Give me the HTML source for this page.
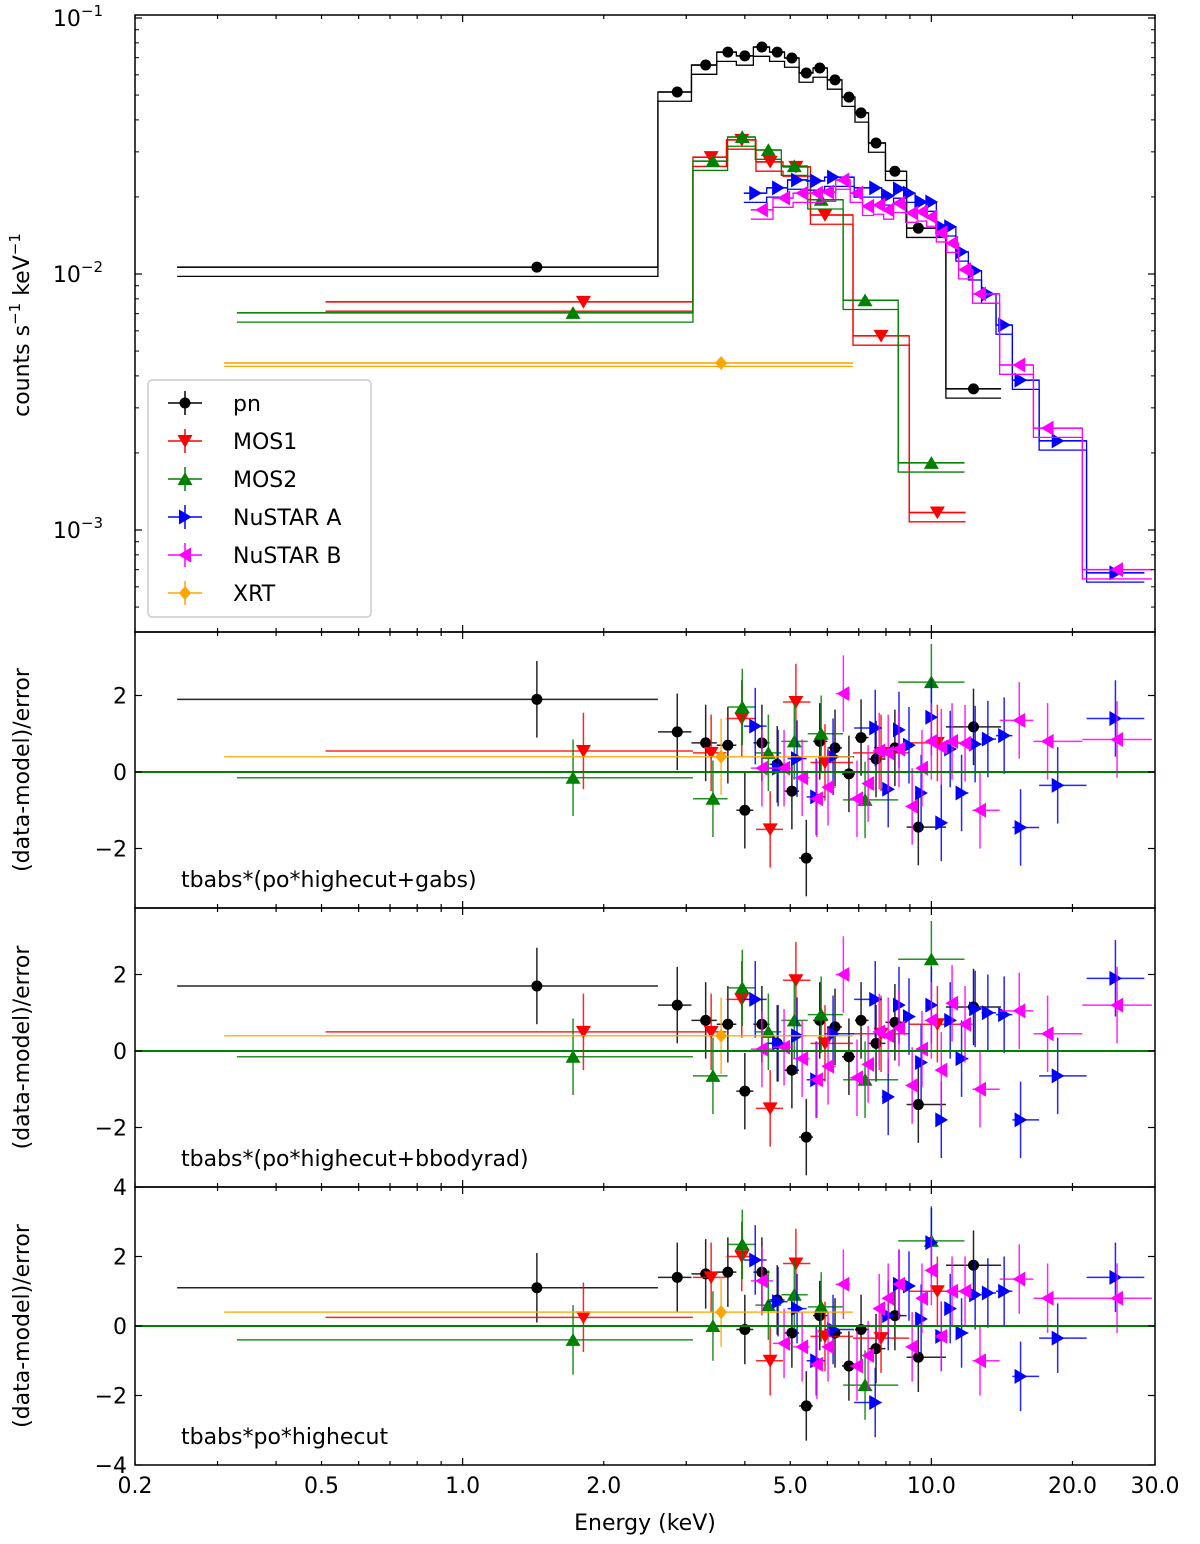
<!DOCTYPE html>
<html><head><meta charset="utf-8"><style>
html,body{margin:0;padding:0;background:#fff;}
svg text{font-family:"DejaVu Sans","Liberation Sans",sans-serif;}
</style></head><body>
<svg id="chart" width="1200" height="1539" viewBox="0 0 1200 1539" xmlns="http://www.w3.org/2000/svg">
<g id="marks"></g><g id="axes"></g>
</svg>
<script>
// ---- data ----
const instruments = ["pn","MOS1","MOS2","NuSTAR A","NuSTAR B","XRT"];
const colors = ["#000000","#ff0000","#008000","#0000ff","#ff00ff","#ffa500"];
const markers = ["circle","down","up","right","left","diamond"];
const pnE = [1.44,2.87,3.30,3.68,4.0,4.35,4.69,5.04,5.41,5.78,6.23,6.67,7.08,7.62,8.36,9.38,12.3];
const pnV = [0.01064,0.0514,0.0655,0.0736,0.0711,0.077,0.0736,0.0698,0.061,0.0638,0.0573,0.0491,0.0426,0.0325,0.0252,0.0151,0.00356];
const pnR1 = [1.9,1.05,0.76,0.7,-1.0,0.76,0.2,-0.5,-2.25,0.8,0.63,-0.05,0.9,0.34,0.63,-1.44,1.18];
const pnR2 = [1.7,1.2,0.8,0.7,-1.05,0.7,0.2,-0.5,-2.25,0.8,0.63,-0.15,0.8,0.2,0.75,-1.4,1.15];
const pnR3 = [1.1,1.4,1.5,1.55,-0.1,1.55,0.75,-0.2,-2.3,0.3,-0.2,-1.15,-0.1,-0.65,0.3,-0.9,1.75];
const m1E = [1.81,3.39,3.94,4.53,5.14,5.93,7.81,10.3];
const m1V = [0.00778,0.0286,0.0334,0.0274,0.0262,0.017,0.00573,0.00117];
const m1R1 = [0.55,0.5,1.4,-1.5,1.83,0.25,0.5,0.76];
const m1R2 = [0.5,0.5,1.35,-1.5,1.85,0.2,0.45,0.7];
const m1R3 = [0.25,1.4,2.0,-1.0,1.8,-0.3,-0.35,1.0];
const m2E = [1.72,3.42,3.95,4.49,5.1,5.82,7.22,10.0];
const m2V = [0.00705,0.0276,0.0343,0.0305,0.0264,0.0195,0.0079,0.00183];
const m2R1 = [-0.15,-0.7,1.7,0.5,0.8,1.0,-0.73,2.35];
const m2R2 = [-0.15,-0.65,1.65,0.5,0.8,0.95,-0.75,2.4];
const m2R3 = [-0.4,0.0,2.35,0.6,0.9,0.55,-1.7,2.45];
const naE = [4.21,4.71,5.17,5.68,6.17,7.59,8.09,8.53,8.96,9.51,10.0,10.5,10.97,11.6,12.4,13.2,14.3,15.5,18.6,24.7];
const naV = [0.0207,0.0217,0.0233,0.0231,0.0239,0.0217,0.0202,0.0215,0.0207,0.0191,0.0191,0.0153,0.0153,0.0122,0.0103,0.00836,0.00632,0.00385,0.00223,0.00068];
const naR1 = [1.2,0.1,0.35,-0.65,0.4,1.15,-0.45,1.1,0.7,-0.55,1.43,-1.33,0.6,-0.55,0.73,0.86,0.95,-1.45,-0.35,1.4];
const naR2 = [1.35,0.2,0.4,-0.75,0.45,1.35,-1.2,1.2,0.9,-0.3,1.2,-1.8,0.8,-0.2,1.1,1.0,0.95,-1.8,-0.65,1.9];
const naR3 = [1.9,0.7,0.5,-1.0,-0.1,-2.2,0.3,1.2,1.15,0.2,2.4,-0.3,0.5,-0.2,0.9,0.95,1.0,-1.45,-0.35,1.4];
const nbE = [4.35,4.85,5.3,5.7,6.02,6.49,6.94,7.33,7.74,8.09,8.53,9.1,9.55,10.0,10.5,11.07,11.8,12.7,15.4,17.7,24.9];
const nbV = [0.0178,0.0198,0.0207,0.0207,0.0209,0.0233,0.0207,0.0184,0.0186,0.0178,0.0189,0.0173,0.0175,0.0167,0.0145,0.0132,0.0104,0.00836,0.00441,0.0025,0.0007];
const nbR1 = [0.1,0.1,-0.15,-0.7,-0.4,2.05,-0.7,-0.3,0.55,0.5,0.6,-0.9,0.1,0.8,0.65,0.8,0.75,-1.0,1.35,0.8,0.85];
const nbR2 = [0.05,0.1,-0.2,-0.75,-0.4,2.0,-0.7,-0.35,0.5,0.4,0.6,-0.9,0.05,0.8,-0.5,1.25,0.7,-1.0,1.05,0.45,1.2];
const nbR3 = [1.3,-0.5,-0.6,-1.1,-0.6,1.2,-1.15,-0.85,0.5,0.8,1.2,-0.6,0.8,1.6,-0.3,1.0,1.0,-1.0,1.35,0.8,0.8];
const xrE = [3.56];
const xrV = [0.00449];
const xrR1 = [0.4];
const xrR2 = [0.4];
const xrR3 = [0.4];
const firstBins = [[0.246,2.61],[0.51,3.1],[0.33,3.1],null,null,[0.31,6.8]];
const residTitles = ["tbabs*(po*highecut+gabs)","tbabs*(po*highecut+bbodyrad)","tbabs*po*highecut"];
const xTicks = [0.2,0.5,1.0,2.0,5.0,10.0,20.0,30.0];
const xTickLabels = ["0.2","0.5","1.0","2.0","5.0","10.0","20.0","30.0"];

const E = [pnE,m1E,m2E,naE,nbE,xrE];
const V = [pnV,m1V,m2V,naV,nbV,xrV];
const R = [[pnR1,m1R1,m2R1,naR1,nbR1,xrR1],[pnR2,m1R2,m2R2,naR2,nbR2,xrR2],[pnR3,m1R3,m2R3,naR3,nbR3,xrR3]];

// ---- layout ----
const X0=135,X1=1155;
const xs = e => X0 + (Math.log10(e/0.2)/Math.log10(30/0.2))*(X1-X0);
const topY0=15,topY1=632;
const ys = v => 18 + (-1 - Math.log10(v))*256;
const panels=[{y0:632,y1:908,zero:772,unit:38.25,ticks:[-2,0,2]},
              {y0:908,y1:1187,zero:1051,unit:38.25,ticks:[-2,0,2]},
              {y0:1187,y1:1465,zero:1326,unit:34.75,ticks:[-4,-2,0,2,4]}];
const NS="http://www.w3.org/2000/svg";
const marks=document.getElementById('marks'), axes=document.getElementById('axes');
function el(tag,attrs,parent){const e=document.createElementNS(NS,tag);for(const k in attrs)e.setAttribute(k,attrs[k]);(parent||marks).appendChild(e);return e;}
function marker(kind,x,y,c,parent){
  const s=7.5;let e;
  if(kind==="circle") e=el('circle',{cx:x,cy:y,r:5.5,fill:c},parent);
  else {let p;
    if(kind==="down")p=[[x-s,y-s*0.8],[x+s,y-s*0.8],[x,y+s*0.9]];
    if(kind==="up")p=[[x-s,y+s*0.8],[x+s,y+s*0.8],[x,y-s*0.9]];
    if(kind==="right")p=[[x-s*0.8,y-s],[x-s*0.8,y+s],[x+s*0.9,y]];
    if(kind==="left")p=[[x+s*0.8,y-s],[x+s*0.8,y+s],[x-s*0.9,y]];
    if(kind==="diamond")p=[[x,y-7],[x+6,y],[x,y+7],[x-6,y]];
    e=el('polygon',{points:p.map(q=>q.join(',')).join(' '),fill:c},parent);}
  return e;
}
function bins(i){
  const e=E[i],out=[];let lo;
  for(let k=0;k<e.length;k++){
    let l,h;
    if(k===0){ if(firstBins[i]){l=firstBins[i][0];h=firstBins[i][1];} else {h=Math.sqrt(e[0]*e[1]);l=e[0]*e[0]/h;} }
    else { l=out[k-1][1]; h = k===e.length-1 ? e[k]*e[k]/l : Math.sqrt(e[k]*e[k+1]); if(h<=e[k]) h=e[k]*1.03; }
    out.push([l,h]);
  }
  return out;
}
// clip paths
const defs=el('defs',{});
[[topY0,topY1]].concat(panels.map(p=>[p.y0,p.y1])).forEach((p,i)=>{
  const cp=el('clipPath',{id:'cp'+i},defs);el('rect',{x:X0,y:p[0],width:X1-X0,height:p[1]-p[0]},cp);});
// top panel
const gTop=el('g',{'clip-path':'url(#cp0)'});


for(let i=0;i<6;i++){
  const b=bins(i),c=colors[i];
  const g=el('g',{},gTop);
  
  
  if(i<5){ [1.0,0.92].forEach(f=>{
    let d='';
    b.forEach((bb,k)=>{const y=ys(V[i][k]*f);d+=(k===0?'M':'L')+xs(bb[0])+','+y+'L'+xs(bb[1])+','+y;});
    const last=b[b.length-1];d+='';
    el('path',{d:d,fill:'none',stroke:c,'stroke-width':1.3},g);});}
  else { [1.0,0.97].forEach(f=>{const y=ys(V[i][0]*f);el('line',{x1:xs(b[0][0]),x2:xs(b[0][1]),y1:y,y2:y,stroke:c,'stroke-width':1.3},g);}); }
  for(let k=0;k<E[i].length;k++){
    const x=xs(E[i][k]),y=ys(V[i][k]);
    el('line',{x1:xs(b[k][0]),x2:xs(b[k][1]),y1:y,y2:y,stroke:c,'stroke-width':1.5},g);
    el('line',{x1:x,x2:x,y1:ys(V[i][k]*1.03),y2:ys(V[i][k]/1.03),stroke:c,'stroke-width':1.5},g);
    const m=marker(markers[i],x,y,c,g);
    
    
  }
}
// residual panels
panels.forEach((p,pi)=>{
  const g=el('g',{'clip-path':'url(#cp'+(pi+1)+')'});
  
  
  const yr=r=>p.zero-r*p.unit;
  for(let i=0;i<6;i++){
    const b=bins(i),c=colors[i];
    for(let k=0;k<E[i].length;k++){
      const x=xs(E[i][k]),y=yr(R[pi][i][k]);
      el('line',{x1:xs(b[k][0]),x2:xs(b[k][1]),y1:y,y2:y,stroke:c,'stroke-width':1.5,opacity:0.85},g);
      el('line',{x1:x,x2:x,y1:yr(R[pi][i][k]-1),y2:yr(R[pi][i][k]+1),stroke:c,'stroke-width':1.5,opacity:0.85},g);
      const m=marker(markers[i],x,y,c,g);
      
      
    }
  }
  const z=el('line',{x1:X0,x2:X1,y1:p.zero,y2:p.zero,stroke:'#008000','stroke-width':2},g);
  
  
  const t=el('text',{x:181,y:p.y1-21,'font-size':22,fill:'#000'},axes);t.textContent=residTitles[pi];
  
  
});
// axes frames & ticks
function frame(y0,y1,name){const r=el('rect',{x:X0,y:y0,width:X1-X0,height:y1-y0,fill:'none',stroke:'#000','stroke-width':1.5},axes);
  }
frame(topY0,topY1,'spectrum-axes');panels.forEach((p,i)=>frame(p.y0,p.y1,'residual-axes-'+(i+1)));
const allPanels=[[topY0,topY1]].concat(panels.map(p=>[p.y0,p.y1]));
// x ticks
const minorE=[];for(const dec of [0.1,1,10]) for(let m=2;m<=9;m++){const e=m*dec;if(e>=0.2&&e<=30)minorE.push(e);}
const majorE=[1,10];
allPanels.forEach(([a,b])=>{
  minorE.forEach(e=>{const x=xs(e);const L=majorE.includes(e)?7:4;
    el('line',{x1:x,x2:x,y1:b,y2:b-L,stroke:'#000','stroke-width':1.2},axes);
    el('line',{x1:x,x2:x,y1:a,y2:a+L,stroke:'#000','stroke-width':1.2},axes);});
  majorE.forEach(e=>{const x=xs(e);el('line',{x1:x,x2:x,y1:b,y2:b-7,stroke:'#000','stroke-width':1.2},axes);el('line',{x1:x,x2:x,y1:a,y2:a+7,stroke:'#000','stroke-width':1.2},axes);});
});
xTicks.forEach((e,k)=>{const t=el('text',{x:xs(e),y:1493,'font-size':22,'text-anchor':'middle'},axes);t.textContent=xTickLabels[k];
  });
const xl=el('text',{x:645,y:1530,'font-size':22,'text-anchor':'middle'},axes);xl.textContent='Energy (keV)';

// top y ticks
[-1,-2,-3].forEach(ex=>{const y=ys(Math.pow(10,ex));
  el('line',{x1:X0,x2:X0+7,y1:y,y2:y,stroke:'#000','stroke-width':1.2},axes);el('line',{x1:X1,x2:X1-7,y1:y,y2:y,stroke:'#000','stroke-width':1.2},axes);
  const t=el('text',{x:103,y:y+8,'font-size':22,'text-anchor':'end'},axes);t.textContent='10';
  const s=el('tspan',{dy:-10,'font-size':15},t);s.textContent='\u2212'+(-ex);
  });
for(let ex=-4;ex<=-1;ex++)for(let m=2;m<=9;m++){const v=m*Math.pow(10,ex);const y=ys(v);if(y>topY0&&y<topY1){
  el('line',{x1:X0,x2:X0+4,y1:y,y2:y,stroke:'#000','stroke-width':1},axes);el('line',{x1:X1,x2:X1-4,y1:y,y2:y,stroke:'#000','stroke-width':1},axes);}}
const yl=el('text',{x:0,y:0,'font-size':22,'text-anchor':'middle',transform:'translate(29,325) rotate(-90)'},axes);
yl.innerHTML='counts s<tspan dy="-9" font-size="15">\u22121</tspan><tspan dy="9"> keV</tspan><tspan dy="-9" font-size="15">\u22121</tspan>';

panels.forEach(p=>{
  p.ticks.forEach(v=>{const y=p.zero-v*p.unit;
    el('line',{x1:X0,x2:X0+7,y1:y,y2:y,stroke:'#000','stroke-width':1.2},axes);el('line',{x1:X1,x2:X1-7,y1:y,y2:y,stroke:'#000','stroke-width':1.2},axes);
    const t=el('text',{x:127,y:y+8,'font-size':22,'text-anchor':'end'},axes);t.textContent=(v<0?'\u2212':'')+Math.abs(v);
    });
  const t=el('text',{x:0,y:0,'font-size':22,'text-anchor':'middle',transform:'translate(29,'+((p.y0+p.y1)/2)+') rotate(-90)'},axes);
  t.textContent='(data-model)/error';
});
// legend
const lg=el('g',{},axes);
el('rect',{x:148,y:380,width:223,height:237,rx:4,fill:'#fff',stroke:'#ccc','stroke-width':1.5},lg);
instruments.forEach((n,i)=>{const y=403+i*38;const g=el('g',{},lg);
  
  el('line',{x1:168,x2:202,y1:y,y2:y,stroke:colors[i],'stroke-width':1.5},g);
  el('line',{x1:185,x2:185,y1:y-12,y2:y+12,stroke:colors[i],'stroke-width':1.5},g);
  marker(markers[i],185,y,colors[i],g);
  const t=el('text',{x:233,y:y+8,'font-size':22},g);t.textContent=n;});
</script>
</body></html>
